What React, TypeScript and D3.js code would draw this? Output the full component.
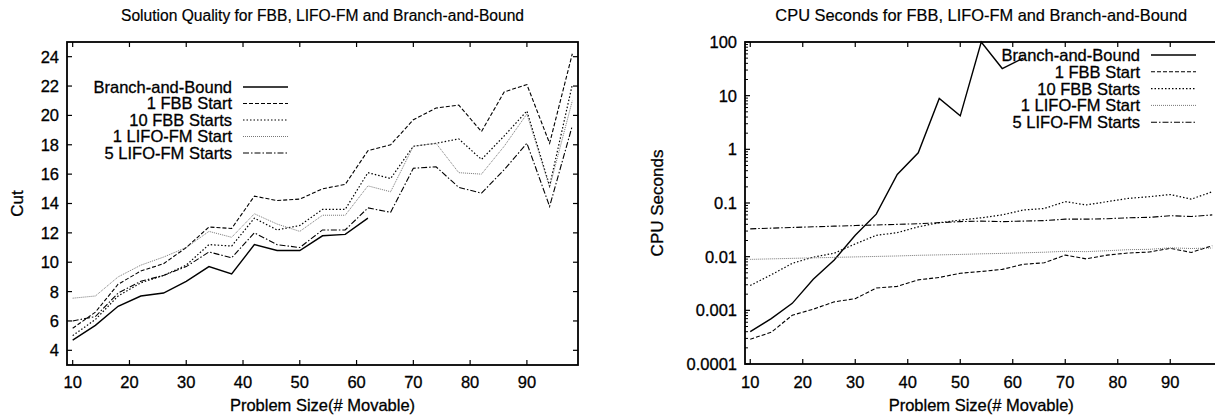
import React from 'react';
import * as d3 from 'd3';

// problem sizes (# movable)
const sizes = [10, 14, 18, 22, 26, 30, 34, 38, 42, 46, 50, 54, 58, 62, 66, 70, 74, 78, 82, 86, 90, 94, 98];
const seriesNames = ['Branch-and-Bound', '1 FBB Start', '10 FBB Starts', '1 LIFO-FM Start', '5 LIFO-FM Starts'];

// cut values (left chart); branch-and-bound only runs up to 62
const bbCut = [4.7, 5.7, 7.0, 7.7, 7.9, 8.7, 9.7, 9.2, 11.2, 10.8, 10.8, 11.8, 11.9, 13.0];
const fbb1Cut = [5.5, 6.6, 8.5, 9.4, 9.9, 11.0, 12.4, 12.3, 14.5, 14.2, 14.3, 15.0, 15.3, 17.6, 18.0, 19.7, 20.5, 20.7, 18.9, 21.6, 22.1, 18.1, 24.2];
const fbb10Cut = [5.0, 6.1, 7.7, 8.6, 9.1, 9.8, 11.2, 11.1, 13.0, 12.2, 12.5, 13.6, 13.6, 16.1, 15.7, 17.9, 18.1, 18.4, 17.0, 18.6, 20.3, 15.2, 22.1];
const lifo1Cut = [7.55, 7.7, 9.0, 9.8, 10.35, 11.0, 12.1, 11.7, 13.3, 12.6, 12.1, 13.2, 13.2, 15.2, 14.8, 17.9, 18.1, 16.1, 16.0, 17.9, 20.1, 15.1, 21.0];
const lifo5Cut = [6.0, 6.3, 7.9, 8.7, 9.1, 9.7, 10.7, 10.3, 12.0, 11.2, 11.0, 12.2, 12.2, 13.7, 13.4, 16.4, 16.5, 15.1, 14.7, 16.3, 18.1, 13.8, 19.3];

// cpu seconds (right chart)
const bbCpu = [0.0004, 0.0007, 0.00135, 0.0038, 0.0087, 0.025, 0.062, 0.34, 0.86, 8.9, 4.2, 100, 32, 50];
const fbb1Cpu = [0.00029, 0.00039, 0.00081, 0.00105, 0.00144, 0.00165, 0.0026, 0.0028, 0.0037, 0.0041, 0.0049, 0.0053, 0.0058, 0.0072, 0.0077, 0.0107, 0.0091, 0.0107, 0.0117, 0.0122, 0.0143, 0.012, 0.016];
const fbb10Cpu = [0.0029, 0.0046, 0.0075, 0.0098, 0.0116, 0.0173, 0.025, 0.028, 0.036, 0.043, 0.048, 0.053, 0.06, 0.074, 0.079, 0.106, 0.092, 0.106, 0.122, 0.131, 0.144, 0.118, 0.162];
const lifo1Cpu = [0.0089, 0.0091, 0.0093, 0.0095, 0.0097, 0.0099, 0.0101, 0.0103, 0.0106, 0.0108, 0.011, 0.0113, 0.0115, 0.0118, 0.0121, 0.0126, 0.0124, 0.0129, 0.0135, 0.0137, 0.0146, 0.0142, 0.0145];
const lifo5Cpu = [0.033, 0.034, 0.035, 0.036, 0.037, 0.038, 0.039, 0.04, 0.041, 0.043, 0.045, 0.046, 0.045, 0.046, 0.047, 0.05, 0.05, 0.051, 0.053, 0.054, 0.058, 0.056, 0.06];

const xTicks = [10, 20, 30, 40, 50, 60, 70, 80, 90];
const cutTicks = [4, 6, 8, 10, 12, 14, 16, 18, 20, 22, 24];
const cpuTicks = [0.0001, 0.001, 0.01, 0.1, 1, 10, 100];
const cpuTickLabels = ['0.0001', '0.001', '0.01', '0.1', '1', '10', '100'];

// line styles in legend order
const styles = [
  { stroke: '#000', dash: 'none', w: 1.4 },
  { stroke: '#000', dash: '4,2', w: 1.1 },
  { stroke: '#000', dash: '1.5,2', w: 1.2 },
  { stroke: '#777', dash: '1,1', w: 1 },
  { stroke: '#000', dash: '6,2,1.5,2', w: 1.1 },
];

const font = '"Liberation Sans", Arial, Helvetica, sans-serif';
// scanned print looks a little heavy, so give text a hairline outline
const txt = { fontFamily: font, stroke: '#000', strokeWidth: 0.3 };

function Panel({ left, right, top, bottom, yScaleType, series, title, titleSize, yLabel, legendX, legendY, legendStep }) {
  const x = d3.scaleLinear().domain([9, 99]).range([left, right]);
  let y, yTicks, yLabels, minor = [];
  if (yScaleType === 'log') {
    y = d3.scaleLog().domain([0.0001, 100]).range([bottom, top]);
    yTicks = cpuTicks;
    yLabels = cpuTickLabels;
    cpuTicks.slice(0, -1).forEach((t) => {
      for (let k = 2; k <= 9; k++) minor.push(t * k);
    });
  } else {
    y = d3.scaleLinear().domain([3, 25]).range([bottom, top]);
    yTicks = cutTicks;
    yLabels = cutTicks.map(String);
  }
  const line = d3.line().x((d) => x(d[0])).y((d) => y(d[1]));
  const mirror = right <= 1215;

  return (
    <g>
      <text x={(left + right) / 2} y={21} textAnchor="middle" fontSize={titleSize} {...txt} strokeWidth={0.2}>{title}</text>
      {series.map((vals, i) => (
        <path key={'s' + i} d={line(vals.map((v, j) => [sizes[j], v]))} fill="none"
          stroke={styles[i].stroke} strokeWidth={styles[i].w} strokeDasharray={styles[i].dash} />
      ))}
      <rect x={left} y={top} width={right - left} height={bottom - top} fill="none" stroke="#000" strokeWidth={1.8} />
      {yTicks.map((t, i) => (
        <g key={'yt' + i}>
          <line x1={left} x2={left + 5} y1={y(t)} y2={y(t)} stroke="#000" strokeWidth={1.2} />
          {mirror && <line x1={right} x2={right - 5} y1={y(t)} y2={y(t)} stroke="#000" strokeWidth={1.2} />}
          <text x={left - 8} y={y(t)} dy="0.36em" textAnchor="end" fontSize={16.5} {...txt}>{yLabels[i]}</text>
        </g>
      ))}
      {minor.map((t, i) => (
        <g key={'mt' + i}>
          <line x1={left} x2={left + 3} y1={y(t)} y2={y(t)} stroke="#000" strokeWidth={1} />
          {mirror && <line x1={right} x2={right - 3} y1={y(t)} y2={y(t)} stroke="#000" strokeWidth={1} />}
        </g>
      ))}
      {xTicks.map((t) => (
        <g key={'xt' + t}>
          <line x1={x(t)} x2={x(t)} y1={bottom} y2={bottom - 5} stroke="#000" strokeWidth={1.2} />
          <line x1={x(t)} x2={x(t)} y1={top} y2={top + 5} stroke="#000" strokeWidth={1.2} />
          <text x={x(t)} y={387.5} textAnchor="middle" fontSize={16.5} {...txt}>{t}</text>
        </g>
      ))}
      <text x={(left + right) / 2} y={411} textAnchor="middle" fontSize={16.5} {...txt}>Problem Size(# Movable)</text>
      <text transform={`translate(${yLabel.x},${(top + bottom) / 2}) rotate(-90)`} textAnchor="middle" fontSize={17} {...txt}>{yLabel.text}</text>
      {seriesNames.map((name, i) => (
        <g key={'lg' + i}>
          <text x={legendX} y={legendY + i * legendStep} dy="0.36em" textAnchor="end" fontSize={16.5} {...txt}>{name}</text>
          <line x1={legendX + 11} x2={legendX + 56} y1={legendY + i * legendStep} y2={legendY + i * legendStep}
            stroke={styles[i].stroke} strokeWidth={styles[i].w} strokeDasharray={styles[i].dash} />
        </g>
      ))}
    </g>
  );
}

export default function App() {
  return (
    <svg width={1215} height={418} style={{ position: 'absolute', left: 0, top: 0, background: '#fff' }}>
      <Panel left={67} right={578} top={42} bottom={365} yScaleType="linear"
        series={[bbCut, fbb1Cut, fbb10Cut, lifo1Cut, lifo5Cut]}
        title="Solution Quality for FBB, LIFO-FM and Branch-and-Bound" titleSize={15.6}
        yLabel={{ x: 23, text: 'Cut' }} legendX={232} legendY={87} legendStep={16.5} />
      <Panel left={745} right={1217.5} top={42} bottom={364} yScaleType="log"
        series={[bbCpu, fbb1Cpu, fbb10Cpu, lifo1Cpu, lifo5Cpu]}
        title="CPU Seconds for FBB, LIFO-FM and Branch-and-Bound" titleSize={16.4}
        yLabel={{ x: 663, text: 'CPU Seconds' }} legendX={1140} legendY={55} legendStep={16.8} />
    </svg>
  );
}
